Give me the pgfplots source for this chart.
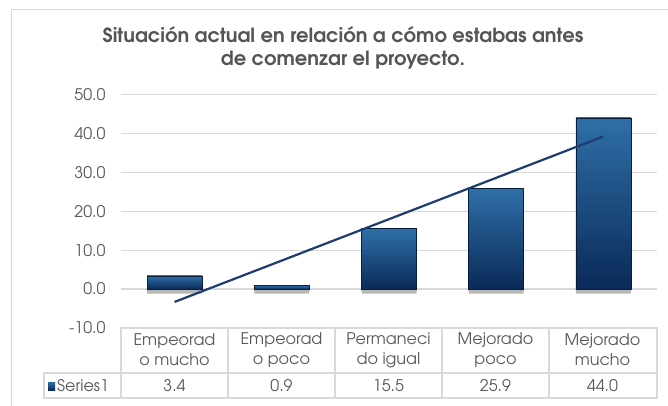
\documentclass[border=0pt]{standalone}
\usepackage{pgfplots}
\pgfplotsset{compat=1.18}
\usepackage{fontspec}
\IfFontExistsTF{TeX Gyre Adventor}{\setmainfont{TeX Gyre Adventor}}{\setmainfont{Poppins}}
\definecolor{txt}{HTML}{595959}
\definecolor{ttl}{HTML}{555555}
\definecolor{grd}{HTML}{D9D9D9}
\definecolor{bartop}{HTML}{2F6FA8}
\definecolor{barmid}{HTML}{1F5189}
\definecolor{barbot}{HTML}{0A2A58}
\definecolor{trend}{HTML}{1E3C70}
\begin{document}
\begin{tikzpicture}[x=1pt,y=1pt]
\useasboundingbox (0,0) rectangle (668,405);
\fill[white] (0,0) rectangle (668,405);
\draw[grd, line width=1.5pt] (11.5,-10) |- (690,395.5);
\node[ttl, font=\fontsize{19.5}{23}\selectfont\bfseries, align=center] at (343,357)
  {Situación actual en relación a cómo estabas antes\\de comenzar el proyecto.};
\begin{axis}[
  at={(121pt,77pt)}, anchor=south west,
  scale only axis, width=536pt, height=233.6pt,
  xmin=-0.5, xmax=4.5, ymin=-10, ymax=50,
  ytick={-10,0,10,20,30,40,50}, xtick=\empty,
  axis line style={draw=none}, major tick length=0pt,
  ymajorgrids, grid style={grd, line width=1.2pt},
  yticklabel style={font=\fontsize{16}{18}\selectfont, text=txt, xshift=-12pt},
  /pgf/number format/.cd, fixed, fixed zerofill, precision=1, assume math mode=true,
  barstyle/.style={ybar, bar width=55pt, bar shift=0pt, draw=barbot!70!black, line width=0.5pt,
    top color=bartop, middle color=barmid, bottom color=barbot},
]
\addplot[ybar, bar width=55pt, bar shift=0pt, draw=none, fill=black!28]
  coordinates {(0,-1.2) (1,-1.2) (2,-1.2) (3,-1.2) (4,-1.2)};
\addplot[barstyle] coordinates {(0,3.4)};
\addplot[barstyle] coordinates {(1,0.9)};
\addplot[barstyle] coordinates {(2,15.5)};
\addplot[barstyle] coordinates {(3,25.9)};
\addplot[barstyle] coordinates {(4,44.0)};
\addplot[trend, line width=2.2pt, no markers] coordinates {(0,-3.3) (4,39.2)};
\end{axis}
% data table
\draw[grd, line width=1.2pt] (121,77) rectangle (657,32);
\draw[grd, line width=1.2pt] (44,32) rectangle (657,7);
\foreach \xx in {228,335,442,549} \draw[grd, line width=1.2pt] (\xx,77) -- (\xx,7);
\draw[grd, line width=1.2pt] (121,32) -- (121,7);
\begin{scope}[every node/.style={text=txt, font=\fontsize{16}{20}\selectfont, align=center}]
\node at (174.5,55) {Empeorad\\o mucho};
\node at (281.5,55) {Empeorad\\o poco};
\node at (388.5,55) {Permaneci\\do igual};
\node at (495.5,55) {Mejorado\\poco};
\node at (602.5,55) {Mejorado\\mucho};
\node at (174.5,19) {3.4};
\node at (281.5,19) {0.9};
\node at (388.5,19) {15.5};
\node at (495.5,19) {25.9};
\node at (602.5,19) {44.0};
\node[anchor=west, inner sep=0pt] at (57,19) {Series1};
\end{scope}
\shade[top color=bartop, bottom color=barbot] (48,15) rectangle (55,23);
\end{tikzpicture}
\end{document}
